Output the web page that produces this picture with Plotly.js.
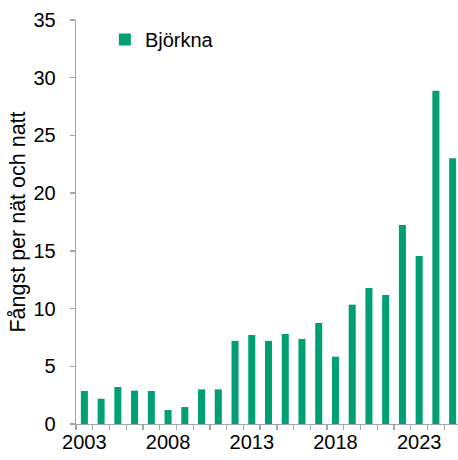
<!DOCTYPE html>
<html>
<head>
<meta charset="utf-8">
<script src="https://cdn.plot.ly/plotly-3.0.1.min.js"></script>
<style>
html,body{margin:0;padding:0;overflow:hidden;background:#fff;width:458px;height:460px;}
#chart{width:461px;height:460px;}
</style>
</head>
<body>
<div id="chart"></div>
<script>
const years = ["2003","2004","2005","2006","2007","2008","2009","2010","2011","2012","2013","2014","2015","2016","2017","2018","2019","2020","2021","2022","2023","2024","2025"];
const bjorkna = [2.86,2.19,3.2,2.89,2.86,1.21,1.47,3.0,3.0,7.2,7.71,7.2,7.8,7.37,8.75,5.83,10.34,11.78,11.18,17.24,14.56,28.88,23.02];
const yearLabels = ["2003","","","","","2008","","","","","2013","","","","","2018","","","","","2023","",""];
const seriesName = "Björkna";

const font = {family: "Liberation Sans, Arial, sans-serif", size: 20, color: "#000"};
const titleFont = {family: "Liberation Sans, Arial, sans-serif", size: 21.5, color: "#000"};
const axisColor = "#a6a6a6";

Plotly.newPlot("chart", [{
  type: "bar",
  x: years,
  y: bjorkna,
  name: seriesName,
  marker: {color: "#00a074"},
  showlegend: true
}], {
  width: 461,
  height: 460,
  margin: {l: 76, r: 0, t: 20, b: 36},
  paper_bgcolor: "#fff",
  plot_bgcolor: "#fff",
  font: font,
  bargap: 0.58,
  showlegend: true,
  legend: {x: 0.075, y: 1.0, xanchor: "left", yanchor: "top", bgcolor: "rgba(0,0,0,0)", font: font},
  xaxis: {
    type: "category",
    tickmode: "array",
    tickvals: years,
    ticktext: yearLabels,
    tickson: "boundaries",
    tickangle: 0,
    ticks: "outside",
    ticklen: 5,
    tickcolor: axisColor,
    tickwidth: 1.3,
    showline: true,
    linecolor: axisColor,
    linewidth: 1.3,
    showgrid: false,
    zeroline: false,
    tickfont: font,
    automargin: false,
    fixedrange: true
  },
  yaxis: {
    range: [0, 35],
    dtick: 5,
    tick0: 0,
    ticks: "outside",
    ticklen: 5,
    tickcolor: axisColor,
    tickwidth: 1.3,
    showline: true,
    linecolor: axisColor,
    linewidth: 1.3,
    showgrid: false,
    zeroline: false,
    tickfont: font,
    ticklabelstandoff: 10,
    title: {text: "Fångst per nät och natt", font: titleFont, standoff: 2},
    automargin: false,
    fixedrange: true
  }
}, {displayModeBar: false, staticPlot: true});
</script>
</body>
</html>
